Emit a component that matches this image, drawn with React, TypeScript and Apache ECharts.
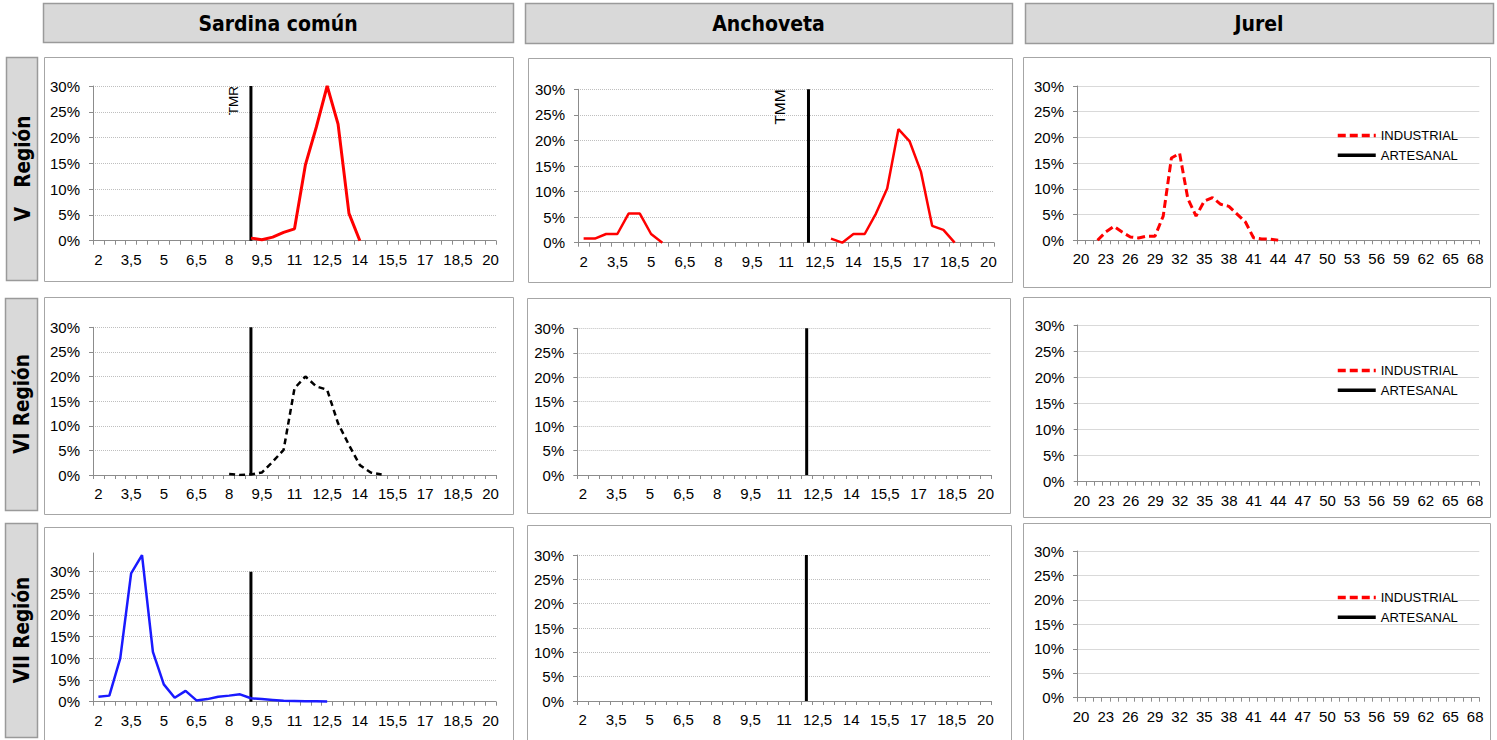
import React, { useEffect, useRef } from 'react';
import * as echarts from 'echarts';

// ---------- DATA ----------
const sizeCats = ['2', '2,5', '3', '3,5', '4', '4,5', '5', '5,5', '6', '6,5', '7', '7,5', '8', '8,5', '9', '9,5', '10', '10,5', '11', '11,5', '12', '12,5', '13', '13,5', '14', '14,5', '15', '15,5', '16', '16,5', '17', '17,5', '18', '18,5', '19', '19,5', '20'];
const jurelCats = ['20', '21', '22', '23', '24', '25', '26', '27', '28', '29', '30', '31', '32', '33', '34', '35', '36', '37', '38', '39', '40', '41', '42', '43', '44', '45', '46', '47', '48', '49', '50', '51', '52', '53', '54', '55', '56', '57', '58', '59', '60', '61', '62', '63', '64', '65', '66', '67', '68'];

const speciesTitles = ['Sardina común', 'Anchoveta', 'Jurel'];
const regionTitles = ['V\u00a0\u00a0\u00a0Región', 'VI Región', 'VII Región'];

// percentages (%) by size class; null = no data
const sardinaV = [null, null, null, null, null, null, null, null, null, null, null, null, null, null, 0.5, 0.2, 0.7, 1.6, 2.3, 14.7, 22, 30, 22.6, 5.3, 0, null, null, null, null, null, null, null, null, null, null, null, null];
const sardinaVI = [null, null, null, null, null, null, null, null, null, null, null, null, 0.2, 0, 0.1, 0.5, 2.7, 5.1, 17.6, 20, 18, 17.3, 10.5, 6.1, 2.0, 0.5, 0.1, null, null, null, null, null, null, null, null, null, null];
const sardinaVII = [1.15, 1.4, 10, 29.6, 33.8, 11.5, 4, 0.9, 2.5, 0.3, 0.6, 1.15, 1.4, 1.7, 0.8, 0.6, 0.4, 0.2, 0.15, 0.1, 0.1, 0.05, null, null, null, null, null, null, null, null, null, null, null, null, null, null, null];
const anchovetaV = [0.8, 0.8, 1.7, 1.7, 5.7, 5.7, 1.7, 0, null, null, null, null, null, null, null, null, null, null, null, null, null, null, 0.8, 0, 1.7, 1.7, 5.7, 10.6, 22.2, 19.8, 13.9, 3.3, 2.5, 0, null, null, null];
const jurelIndustrialV = [null, null, 0, 1.6, 2.7, 1.6, 0.65, 0.45, 0.8, 0.8, 4.7, 16, 16.9, 8.1, 4.7, 7.6, 8.3, 7.0, 6.6, 5.1, 3.6, 0.5, 0.25, 0.25, 0, null, null, null, null, null, null, null, null, null, null, null, null, null, null, null, null, null, null, null, null, null, null, null, null];
const jurelArtesanal: (number | null)[] = [];
const jurelEmpty: (number | null)[] = [];

const tmrSize = '9';   // sardina común reference length
const tmmSize = '12';  // anchoveta reference length
const refLineRange = [0, 30];
const yTicks = [0, 5, 10, 15, 20, 25, 30];

// ---------- LAYOUT ----------
const FONT = "'Liberation Sans', Arial, sans-serif";
const TITLE_FONT = "'Liberation Sans Narrow', 'DejaVu Sans Condensed', 'Liberation Sans', Arial, sans-serif";

const gridBoxes = [
  { left: 93, top: 86, width: 403, height: 154.7 },
  { left: 578, top: 89.3, width: 416, height: 153.4 },
  { left: 1077, top: 86, width: 402.3, height: 154.3 },
  { left: 93, top: 327.3, width: 403, height: 147.7 },
  { left: 577.3, top: 328.3, width: 414, height: 146.7 },
  { left: 1077.7, top: 325, width: 401.3, height: 156.7 },
  { left: 93, top: 553, width: 403, height: 148.7 },
  { left: 577, top: 555, width: 414, height: 146 },
  { left: 1077, top: 551, width: 402.3, height: 146.7 },
];
const panelBoxes = [
  [44, 57, 469, 224], [528, 58, 484, 224], [1023, 57, 467, 230],
  [44, 297, 469, 217], [527, 298, 483, 215], [1023, 297, 467, 220],
  [44, 527, 469, 230], [527, 525, 484, 230], [1023, 523, 467, 230],
];
const headerBoxes = [[43, 3, 470, 39], [525, 3, 487, 40], [1025, 3, 468, 40]];
const rowBoxes = [[6, 57, 31, 223], [5, 298, 32, 212], [5, 523, 32, 214]];
const legendTops = [124, 359, 586];

export default function App() {
  const ref = useRef<HTMLDivElement>(null);

  useEffect(() => {
    if (!ref.current) return;
    const chart = echarts.init(ref.current, undefined, { renderer: 'svg' });

    const xAxes: any[] = [];
    const yAxes: any[] = [];
    gridBoxes.forEach((g, i) => {
      const col = i % 3;
      const isJurel = col === 2;
      xAxes.push({
        type: 'category',
        gridIndex: i,
        data: isJurel ? jurelCats : sizeCats,
        boundaryGap: true,
        axisLine: { show: true, lineStyle: { color: '#8c8c8c', width: 1 } },
        axisTick: { show: true, interval: 0, length: 4, lineStyle: { color: '#8c8c8c' } },
        axisLabel: { interval: 2, color: '#000', fontSize: 15, fontFamily: FONT, margin: 11 },
        splitLine: { show: false },
      });
      yAxes.push({
        type: 'value',
        gridIndex: i,
        min: 0,
        max: i === 6 ? 34.3 : 30,
        interval: 5,
        axisLine: { show: true, lineStyle: { color: '#8c8c8c', width: 1 } },
        axisTick: { show: true, length: 4, lineStyle: { color: '#8c8c8c' } },
        axisLabel: {
          color: '#000', fontSize: 15, fontFamily: FONT, margin: 13,
          formatter: (v: number) => (yTicks.indexOf(v) >= 0 ? v + '%' : ''),
          showMaxLabel: i === 6 ? false : true,
        },
        splitLine: {
          show: true,
          showMaxLine: i === 6 ? false : true,
          lineStyle: isJurel ? { color: '#d9d9d9', type: 'solid', width: 1 } : { color: '#bfbfbf', type: 'dotted', width: 1 },
        },
      });
    });

    const refLine = (gi: number, cat: string) => ({
      type: 'line', name: 'ref' + gi, xAxisIndex: gi, yAxisIndex: gi,
      data: [[cat, refLineRange[0]], [cat, refLineRange[1]]],
      symbol: 'none', lineStyle: { color: '#000', width: 3 }, z: 3,
    });
    const dataLine = (gi: number, data: any[], color: string, width: number, type: any) => ({
      type: 'line', name: 'd' + gi, xAxisIndex: gi, yAxisIndex: gi, data,
      symbol: 'none', connectNulls: false,
      lineStyle: { color, width, type }, z: 4,
    });
    const jurelSeries = (gi: number, ind: any[]) => [
      {
        type: 'line', name: 'INDUSTRIAL', xAxisIndex: gi, yAxisIndex: gi, data: ind,
        symbol: 'none', itemStyle: { color: '#ff0000' },
        lineStyle: { color: '#ff0000', width: 3, type: [8, 4] }, z: 4,
      },
      {
        type: 'line', name: 'ARTESANAL', xAxisIndex: gi, yAxisIndex: gi, data: jurelArtesanal,
        symbol: 'none', itemStyle: { color: '#000' },
        lineStyle: { color: '#000', width: 3.5, type: 'solid' }, z: 4,
      },
    ];

    const series: any[] = [
      refLine(0, tmrSize), dataLine(0, sardinaV, '#ff0000', 3, 'solid'),
      refLine(1, tmmSize), dataLine(1, anchovetaV, '#ff0000', 2.5, 'solid'),
      ...jurelSeries(2, jurelIndustrialV),
      refLine(3, tmrSize), dataLine(3, sardinaVI, '#000', 2.5, [6, 4]),
      refLine(4, tmmSize),
      ...jurelSeries(5, jurelEmpty),
      refLine(6, tmrSize), dataLine(6, sardinaVII, '#1a1aff', 2.5, 'solid'),
      refLine(7, tmmSize),
      ...jurelSeries(8, jurelEmpty),
    ];

    const graphics: any[] = [];
    panelBoxes.forEach((b, i) => {
      graphics.push({
        type: 'rect', id: 'panel' + i, shape: { x: b[0] + 0.5, y: b[1] + 0.5, width: b[2], height: b[3] },
        style: { fill: 'none', stroke: '#a6a6a6', lineWidth: 1 }, z: -1, silent: true,
      });
    });
    headerBoxes.forEach((b, i) => {
      graphics.push({
        type: 'rect', id: 'hdr' + i, shape: { x: b[0] + 0.5, y: b[1] + 0.5, width: b[2], height: b[3] },
        style: { fill: '#d9d9d9', stroke: '#9a9a9a', lineWidth: 1.5 }, silent: true,
      });
      graphics.push({
        type: 'text', id: 'hdrt' + i, x: b[0] + b[2] / 2, y: b[1] + b[3] / 2 + 1,
        style: { text: speciesTitles[i], fill: '#000', fontSize: 21, fontWeight: 'bold', fontFamily: TITLE_FONT, align: 'center', verticalAlign: 'middle' },
        silent: true,
      });
    });
    rowBoxes.forEach((b, i) => {
      graphics.push({
        type: 'rect', id: 'row' + i, shape: { x: b[0] + 0.5, y: b[1] + 0.5, width: b[2], height: b[3] },
        style: { fill: '#d9d9d9', stroke: '#9a9a9a', lineWidth: 1.5 }, silent: true,
      });
      graphics.push({
        type: 'text', id: 'rowt' + i, x: b[0] + b[2] / 2 + 1, y: b[1] + b[3] / 2, rotation: Math.PI / 2,
        style: { text: regionTitles[i], fill: '#000', fontSize: 20.5, fontWeight: 'bold', fontFamily: TITLE_FONT, align: 'center', verticalAlign: 'middle' },
        silent: true,
      });
    });

    const legends = legendTops.map((t) => ({
      data: ['INDUSTRIAL', 'ARTESANAL'],
      orient: 'vertical', left: 1331, top: t,
      itemWidth: 38, itemHeight: 14, itemGap: 6.7,
      selectedMode: false,
      itemStyle: { opacity: 0 },
      lineStyle: { width: 3.5 },
      textStyle: { fontSize: 13, color: '#000', fontFamily: FONT },
    }));

    chart.setOption({
      animation: false,
      backgroundColor: '#fff',
      grid: gridBoxes.map((g) => ({ ...g, containLabel: false, outerBoundsMode: 'none' })),
      xAxis: xAxes,
      yAxis: yAxes,
      legend: legends,
      series,
      graphic: graphics,
    });

    // reference-length labels, positioned via the axes' own scales
    const pTMR = chart.convertToPixel({ gridIndex: 0 } as any, [sizeCats.indexOf(tmrSize), refLineRange[1]]) as number[];
    const pTMM = chart.convertToPixel({ gridIndex: 1 } as any, [sizeCats.indexOf(tmmSize), refLineRange[1]]) as number[];
    if (pTMR && pTMM) {
      chart.setOption({
        graphic: [
          ...graphics,
          {
            type: 'text', id: 'tmr', x: pTMR[0] - 10, y: pTMR[1], rotation: Math.PI / 2,
            style: { text: 'TMR', fill: '#000', fontSize: 13.5, fontFamily: FONT, align: 'right', verticalAlign: 'bottom' },
            silent: true,
          },
          {
            type: 'text', id: 'tmm', x: pTMM[0] - 21, y: pTMM[1], rotation: Math.PI / 2,
            style: { text: 'TMM', fill: '#000', fontSize: 15.5, fontFamily: FONT, align: 'right', verticalAlign: 'bottom' },
            silent: true,
          },
        ],
      });
    }

    return () => chart.dispose();
  }, []);

  return <div ref={ref} style={{ position: 'absolute', left: 0, top: 0, width: 1497, height: 740 }} />;
}
